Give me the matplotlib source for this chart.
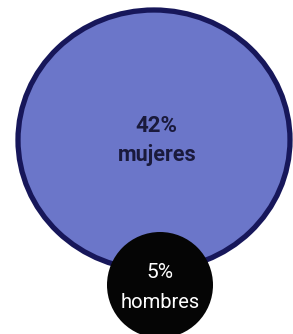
import matplotlib
matplotlib.use("Agg")
import matplotlib.pyplot as plt
from matplotlib.patches import Ellipse, Circle

# Data
categories = ["mujeres", "hombres"]
values = [42, 5]
labels = [f"{v}%" for v in values]

fam = "Roboto"

# Layout (pixel coordinates, y downwards)
W, H = 293, 334
fig = plt.figure(figsize=(W / 100, H / 100), dpi=100)
ax = fig.add_axes([0, 0, 1, 1])
ax.set_xlim(0, W)
ax.set_ylim(H, 0)
ax.axis("off")

big = Ellipse((154, 140), 272, 260, facecolor="#6b76c9", edgecolor="#17175a", linewidth=3.8, zorder=1)
ax.add_patch(big)
small = Circle((160, 285), 53, facecolor="#050505", edgecolor="none", zorder=2)
ax.add_patch(small)

ax.text(156, 126, labels[0], ha="center", va="center", fontsize=16, fontweight="bold",
        color="#1a1a3c", family=fam, zorder=3)
ax.text(157, 155, categories[0], ha="center", va="center", fontsize=15.5, fontweight="bold",
        color="#1a1a3c", family=fam, zorder=3)
ax.text(160, 272, labels[1], ha="center", va="center", fontsize=15, color="white",
        family=fam, zorder=3)
ax.text(160, 302, categories[1], ha="center", va="center", fontsize=14.5, color="white",
        family=fam, zorder=3)

fig.savefig("out.png", dpi=100)
